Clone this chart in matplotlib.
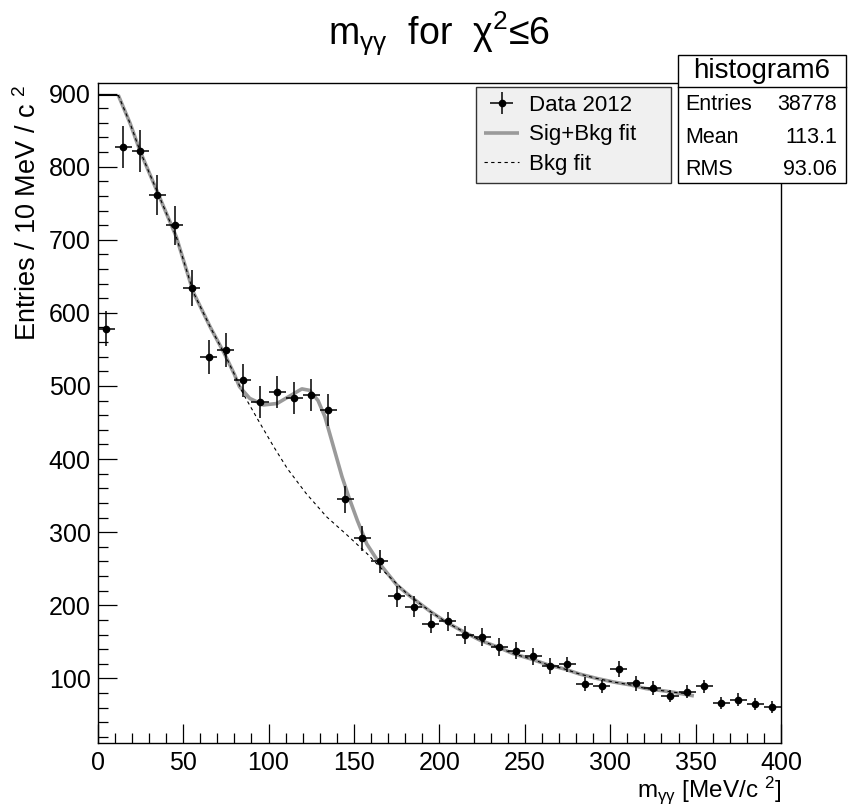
import matplotlib
matplotlib.use('Agg')
import matplotlib.pyplot as plt
from matplotlib.ticker import MultipleLocator
from matplotlib.patches import Rectangle
from matplotlib.lines import Line2D

# data
bin_centers = [5, 15, 25, 35, 45, 55, 65, 75, 85, 95,
               105, 115, 125, 135, 145, 155, 165, 175, 185, 195,
               205, 215, 225, 235, 245, 255, 265, 275, 285, 295,
               305, 315, 325, 335, 345, 355, 365, 375, 385, 395]
counts = [578, 827, 821, 761, 720, 634, 540, 549, 508, 478,
          492, 483, 488, 467, 345, 292, 260, 212, 198, 175,
          178, 159, 157, 143, 138, 130, 117, 119, 92, 89,
          113, 93, 87, 76, 82, 89, 66, 71, 65, 61]
count_errors = [24.0, 28.8, 28.7, 27.6, 26.8, 25.2, 23.2, 23.4, 22.5, 21.9,
                22.2, 22.0, 22.1, 21.6, 18.6, 17.1, 16.1, 14.6, 14.1, 13.2,
                13.3, 12.6, 12.5, 12.0, 11.7, 11.4, 10.8, 10.9, 9.6, 9.4,
                10.6, 9.6, 9.3, 8.7, 9.1, 9.4, 8.1, 8.4, 8.1, 7.8]
bin_half_width = 5

sig_bkg_x = [12, 19, 25, 35, 46, 56, 66, 74, 80, 83, 89, 97, 105, 113, 119.5,
             124, 129, 133, 138, 143, 147, 152, 157.5, 165, 175, 182, 195, 204,
             214, 224, 234, 243, 253, 263, 273, 282, 292, 302, 312, 321, 331,
             337, 349]
sig_bkg_y = [898, 859, 820, 765, 704, 628, 580, 545, 516, 499, 483, 474, 476,
             487, 496, 494, 480, 458, 417, 376, 348, 316, 284, 257, 228, 214,
             191, 177, 164, 152, 143, 134, 127, 119, 113, 106, 100, 95, 91, 86,
             83, 81, 76]

bkg_x = [12, 19, 25, 35, 46, 56, 66, 74, 80, 85, 94, 103, 111, 122, 134, 146,
         157.5, 169, 181, 195, 204, 214, 224, 234, 243, 253, 263, 273, 282, 292,
         302, 312, 321, 331, 337, 345]
bkg_y = [898, 859, 820, 765, 704, 628, 580, 545, 516, 490, 453, 417, 387, 353,
         321, 296, 271, 243, 216, 191, 177, 164, 152, 143, 134, 127, 119, 113,
         106, 100, 95, 91, 86, 83, 81, 79]

edge_x = [0, 12]
edge_y = [898, 898]

x_ticks = [0, 50, 100, 150, 200, 250, 300, 350, 400]
y_ticks = [100, 200, 300, 400, 500, 600, 700, 800, 900]

legend_labels = ['Data 2012', 'Sig+Bkg fit', 'Bkg fit']
stats_title = 'histogram6'
stats_rows = [('Entries', '38778'), ('Mean', '113.1'), ('RMS', '93.06')]

W, H = 850, 810


def fx(px):
    return px / W


def fy(py):
    return 1 - py / H


def setup_fonts():
    plt.rcParams['font.family'] = ['Liberation Sans', 'DejaVu Sans']
    plt.rcParams['mathtext.fontset'] = 'custom'
    plt.rcParams['mathtext.rm'] = 'Liberation Sans'
    plt.rcParams['mathtext.it'] = 'Liberation Sans:italic'
    plt.rcParams['mathtext.bf'] = 'Liberation Sans:bold'


def draw_plot(fig):
    ax = fig.add_axes([fx(97.7), fy(742.7), fx(781) - fx(97.7), fy(83.3) - fy(742.7)])

    gray, = ax.plot(sig_bkg_x, sig_bkg_y, color='#9a9a9a', lw=2.6,
                    solid_capstyle='butt', solid_joinstyle='round', zorder=2)
    dash, = ax.plot(bkg_x, bkg_y, color='black', lw=0.8, ls=(0, (3, 3)), zorder=3)
    ax.plot(edge_x, edge_y, color='black', lw=0.8, zorder=3)
    data = ax.errorbar(bin_centers, counts, yerr=count_errors, xerr=bin_half_width,
                       fmt='o', color='black', ms=4.5, elinewidth=1.1,
                       capsize=0, zorder=4)

    ax.set_xlim(0, 400)
    ax.set_ylim(12, 914)
    ax.set_xticks(x_ticks)
    ax.set_yticks(y_ticks)
    ax.xaxis.set_minor_locator(MultipleLocator(10))
    ax.yaxis.set_minor_locator(MultipleLocator(20))
    ax.tick_params(which='both', direction='in', top=False, right=False,
                   width=0.9, labelsize=18)
    ax.tick_params(which='major', length=13.5)
    ax.tick_params(which='minor', length=7)
    ax.tick_params(axis='x', pad=6)
    ax.tick_params(axis='y', pad=5)
    for sp in ax.spines.values():
        sp.set_linewidth(1.0)

    leg = ax.legend([data, gray, dash], legend_labels, loc='upper left',
                    bbox_to_anchor=(fx(476), fy(88), fx(671) - fx(476), 0.001),
                    bbox_transform=fig.transFigure, mode='expand',
                    fontsize=16, fancybox=False, framealpha=1,
                    facecolor='#f0f0f0', edgecolor='#333333',
                    borderaxespad=0, borderpad=0.35, handlelength=1.6,
                    handletextpad=0.45, labelspacing=0.38)
    leg.get_frame().set_linewidth(1.0)
    return ax


def draw_texts(fig):
    fig.text(fx(439), fy(45), 'm$_{\\mathregular{γγ}}$  for  χ$^{\\mathregular{2}}$≤6',
             ha='center', va='baseline', fontsize=27)
    fig.text(fx(781), fy(797), 'm$_{\\mathregular{γγ}}$ [MeV/c $^{\\mathregular{2}}$]',
             ha='right', va='baseline', fontsize=17.5)
    fig.text(fx(28), fy(85), 'Entries / 10 MeV / c $^{\\mathregular{2}}$',
             ha='center', va='top', rotation=90, fontsize=19.5)


def draw_stats(fig):
    left, right, top, bottom, sep = 678, 846, 55, 183, 86.7
    fig.add_artist(Rectangle((fx(left), fy(bottom)), fx(right) - fx(left),
                             fy(top) - fy(bottom), transform=fig.transFigure,
                             facecolor='white', edgecolor='black', lw=1.0, zorder=5))
    fig.add_artist(Line2D([fx(left), fx(right)], [fy(sep), fy(sep)],
                          transform=fig.transFigure, color='black', lw=1.0, zorder=6))
    fig.text(fx((left + right) / 2), fy(71), stats_title, ha='center', va='center',
             fontsize=20, zorder=7)
    for i, (name, value) in enumerate(stats_rows):
        y = fy(105 + i * 32.3)
        fig.text(fx(685), y, name, ha='left', va='center', fontsize=15.5, zorder=7)
        fig.text(fx(837), y, value, ha='right', va='center', fontsize=15.5, zorder=7)


if __name__ == '__main__':
    setup_fonts()
    fig = plt.figure(figsize=(W / 100, H / 100), dpi=100)
    draw_plot(fig)
    draw_texts(fig)
    draw_stats(fig)
    fig.savefig('out.png', dpi=100)
